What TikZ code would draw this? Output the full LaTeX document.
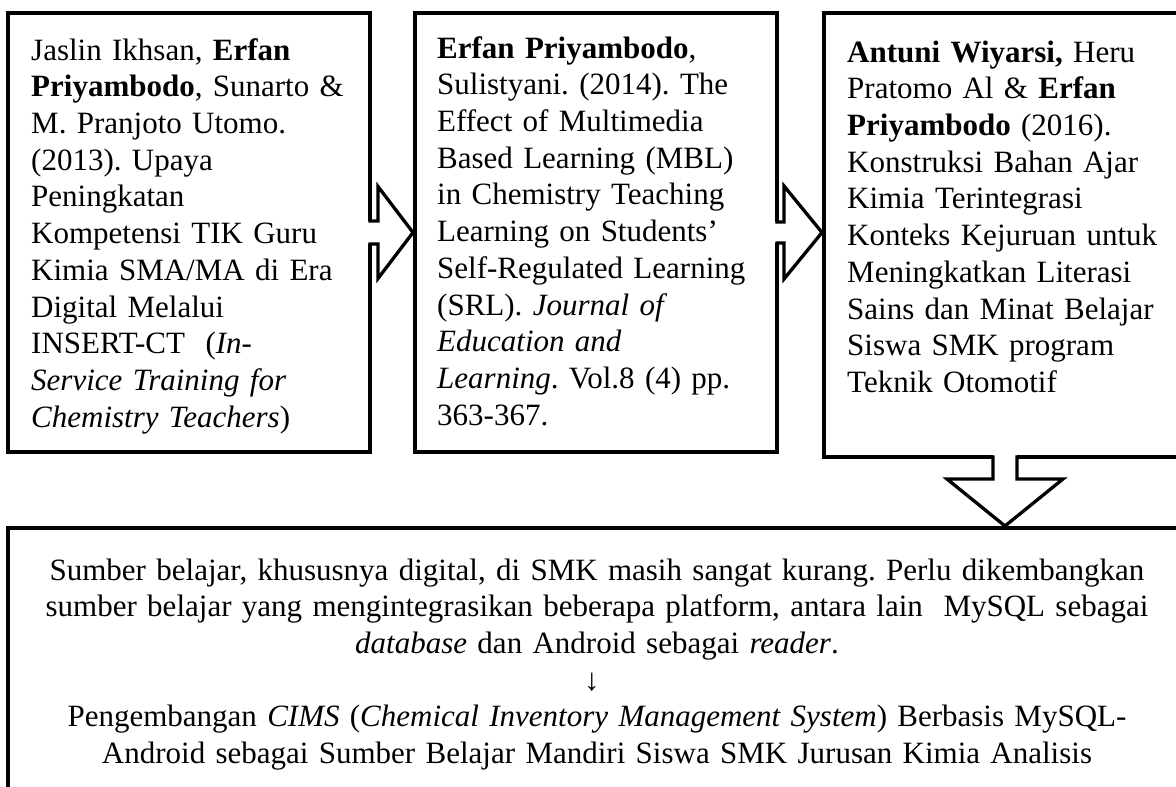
\documentclass[tikz,border=0pt]{standalone}
\usepackage{fontspec}
\setmainfont{Liberation Serif}
\usetikzlibrary{calc}
\setlength{\parindent}{0pt}
\frenchspacing
\begin{document}
\begin{tikzpicture}[x=1pt,y=-1pt,
  box/.style={draw, line width=3.3pt, outer sep=0pt, inner sep=0pt, anchor=north west},
  txt/.style={anchor=north west, inner sep=0pt, text width=#1, align=left, font=\fontsize{31}{36.7}\selectfont\frenchspacing},
  ctxt/.style={anchor=north, inner sep=0pt, text width=#1, align=center, font=\fontsize{31}{36.7}\selectfont\frenchspacing},
  blk/.style={line width=3.3pt, line join=miter, line cap=butt}]
\useasboundingbox (0,0) rectangle (1176,787);
\clip (0,0) rectangle (1176,787);
\fill[white] (0,0) rectangle (1176,787);

% boxes
\node[box, minimum width=362pt, minimum height=439pt] (b1) at (8,13) {};
\node[box, minimum width=362pt, minimum height=439pt] (b2) at (415,13) {};
\node[box, minimum width=362pt, minimum height=444pt] (b3) at (824,13) {};
\node[box, minimum width=1178pt, minimum height=300pt] (b4) at (8,528) {};

% texts
\node[txt=345pt] (t1) at (31,34.3) {\strut Jaslin Ikhsan, \textbf{Erfan}\\ \textbf{Priyambodo}, Sunarto \&\\ M. Pranjoto Utomo.\\ (2013). Upaya\\ Peningkatan\\ Kompetensi TIK Guru\\ Kimia SMA/MA di Era\\ Digital Melalui\\ INSERT-CT~ (\textit{In-}\\ \textit{Service Training for}\\ \textit{Chemistry Teachers})};

\node[txt=340pt] (t2) at (437,32.3) {\strut\textbf{Erfan Priyambodo},\\ Sulistyani. (2014). The\\ Effect of Multimedia\\ Based Learning (MBL)\\ in Chemistry Teaching\\ Learning on Students’\\ Self-Regulated Learning\\ (SRL). \textit{Journal of}\\ \textit{Education and}\\ \textit{Learning}. Vol.8 (4) pp.\\ 363-367.};

\node[txt=335pt] (t3) at (847,36.3) {\strut\textbf{Antuni Wiyarsi,} Heru\\ Pratomo Al \& \textbf{Erfan}\\ \textbf{Priyambodo} (2016).\\ Konstruksi Bahan Ajar\\ Kimia Terintegrasi\\ Konteks Kejuruan untuk\\ Meningkatkan Literasi\\ Sains dan Minat Belajar\\ Siswa SMK program\\ Teknik Otomotif};

\node[ctxt=1160pt] (t4) at (597,554.3) {\strut Sumber belajar, khususnya digital, di SMK masih sangat kurang. Perlu dikembangkan\\ sumber belajar yang mengintegrasikan beberapa platform, antara lain~ MySQL sebagai\\ \textit{database} dan Android sebagai \textit{reader}.\\ \hspace*{-10pt}↓\\ Pengembangan \textit{CIMS} (\textit{Chemical Inventory Management System}) Berbasis MySQL-\\ Android sebagai Sumber Belajar Mandiri Siswa SMK Jurusan Kimia Analisis};

% arrow b1 -> b2
\fill[white] ($(b1.east)+(-2.5,-11.5)$) rectangle ($(b1.east)+(8,11.5)$);
\draw[blk] ($(b1.east)+(-1.65,-11.5)$) -- ($(b1.east)+(8,-11.5)$) -- ($(b1.east)+(8,-46)$)
  -- ($(b2.west)+(-2,0)$) -- ($(b1.east)+(8,46)$) -- ($(b1.east)+(8,11.5)$) -- ($(b1.east)+(-1.65,11.5)$);

% arrow b2 -> b3
\coordinate (tip2) at ($(b3.west)+(-2,0)$);
\fill[white] ($(b2.east)+(-2.5,-10.5)$) rectangle ($(b2.east)+(7,10.5)$);
\draw[blk] ($(b2.east)+(-1.65,-10.5)$) -- ($(b2.east)+(7,-10.5)$) -- ($(b2.east)+(7,-46.5)$)
  -- (tip2 |- b2.east) -- ($(b2.east)+(7,46.5)$) -- ($(b2.east)+(7,10.5)$) -- ($(b2.east)+(-1.65,10.5)$);

% arrow b3 -> b4
\coordinate (tip3) at ($(b3.south |- b4.north)+(0,-2)$);
\fill[white] ($(b3.south)+(-12,-2.5)$) rectangle ($(b3.south)+(12,22)$);
\draw[blk] ($(b3.south)+(-12,-1.65)$) -- ($(b3.south)+(-12,22)$) -- ($(b3.south)+(-58,22)$)
  -- (tip3) -- ($(b3.south)+(58,22)$) -- ($(b3.south)+(12,22)$) -- ($(b3.south)+(12,-1.65)$);
\end{tikzpicture}
\end{document}
